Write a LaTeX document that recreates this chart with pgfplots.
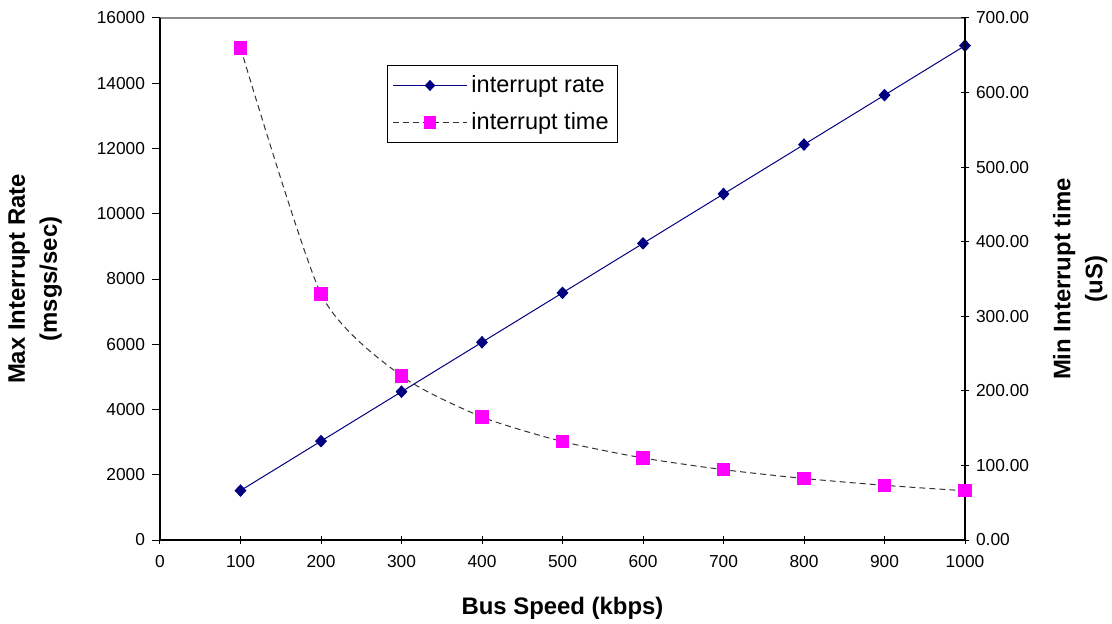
\documentclass[border=0pt]{standalone}
\usepackage{pgfplots}
\pgfplotsset{compat=1.18}
\usepackage{fontspec}
\setmainfont{Liberation Sans}
\definecolor{navy}{RGB}{0,0,128}
\definecolor{mag}{RGB}{255,0,255}
\begin{document}
\begin{tikzpicture}
\useasboundingbox (-80bp,-42bp) rectangle (476bp,270bp);
\pgfplotsset{
  every axis/.append style={
    scale only axis, width=402.5bp, height=261bp,
    xmin=0, xmax=1000,
    tick label style={font=\fontsize{8.7}{10}\selectfont},
    label style={font=\fontsize{12}{16}\selectfont\bfseries},
    /pgf/number format/assume math mode=true,
    tick style={black, line width=0.5pt},
    major tick length=4bp,
  }
}
\draw[gray!90, line width=0.7pt] (0,261bp) -- (402.5bp,261bp);
\begin{axis}[
  axis x line*=bottom, axis y line*=left,
  axis line style={black, line width=0.6pt, -},
  ymin=0, ymax=16000,
  ytick={0,2000,...,16000},
  xtick={0,100,...,1000},
  x tick label style={yshift=-2bp},
  xtick align=center, ytick align=outside,
  scaled y ticks=false,
  /pgf/number format/1000 sep={},
  xlabel={Bus Speed (kbps)},
  ylabel={Max Interrupt Rate\\(msgs/sec)},
  ylabel style={align=center, at={(axis description cs:-0.155,0.5)}, anchor=center},
  xlabel style={at={(axis description cs:0.5,0)}, anchor=center, yshift=-34bp},
  legend style={at={(113.5bp,237.5bp)}, anchor=north west, draw=black, line width=0.5pt,
    font=\fontsize{11.8}{13}\selectfont, row sep=4.5bp, inner xsep=2.5bp, inner ysep=3bp},
  legend cell align=left,
  legend image code/.code={\draw[#1, mark=none] (0bp,0bp) -- (37bp,0bp); \draw[#1, draw opacity=0] plot coordinates {(18.5bp,0bp)};},
]
\addplot[navy, line width=0.5pt, mark=diamond*, mark size=2.8bp, mark options={solid, fill=navy, xscale=1.25}]
coordinates {(100,1515)(200,3030)(300,4545)(400,6061)(500,7576)(600,9091)(700,10606)(800,12121)(900,13636)(1000,15152)};
\addlegendentry{interrupt rate}
\addlegendimage{black!80, dash pattern=on 3bp off 2bp, line width=0.5pt, mark=square*, mark size=3.1bp, mark options={solid, draw=mag, fill=mag}}
\addlegendentry{interrupt time}
\end{axis}
\begin{axis}[
  axis x line=none, axis y line*=right,
  axis line style={black, line width=0.6pt, -},
  ymin=0, ymax=700,
  ytick={0,100,...,700},
  ytick align=center,
  yticklabel style={/pgf/number format/.cd, fixed, fixed zerofill, precision=2},
  ylabel={Min Interrupt time\\(uS)},
  ylabel style={align=center, at={(axis description cs:1.143,0.5)}, anchor=center, rotate=0},
]
\addplot[black!80, dash pattern=on 3bp off 2bp, line width=0.5pt, smooth, tension=0.4, mark=square*, mark size=3.1bp, mark options={solid, draw=mag, fill=mag}]
coordinates {(100,660)(200,330)(300,220)(400,165)(500,132)(600,110)(700,94.3)(800,82.5)(900,73.3)(1000,66)};
\end{axis}
\end{tikzpicture}
\end{document}
